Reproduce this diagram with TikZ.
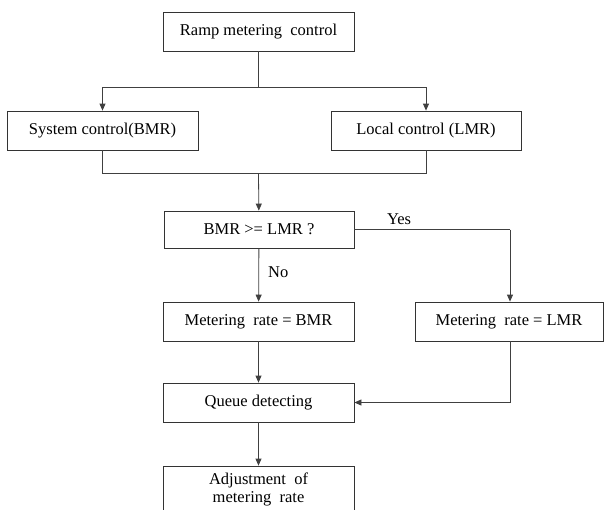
\documentclass[tikz,border=0pt]{standalone}
\usepackage{fontspec}
\setmainfont{Liberation Serif}
\usetikzlibrary{arrows.meta}
\begin{document}
\begin{tikzpicture}[x=1pt,y=-1pt,
  box/.style={draw=black!80, line width=0.8pt, rectangle, inner sep=0pt, minimum height=39pt, font=\rmfamily\fontsize{16.5}{19}\selectfont, align=center},
  ln/.style={draw=black!75, line width=0.8pt},
  arr/.style={ln, -{Triangle[length=7pt,width=6pt]}},
  lbl/.style={font=\rmfamily\fontsize{16.5}{19}\selectfont, inner sep=0pt}]
\useasboundingbox (0,0) rectangle (604,509);
\node[box, minimum width=191pt] (ramp) at (258.5,31.5) {Ramp metering\ \ control};
\node[box, minimum width=191pt] (sys) at (102.5,130.5) {System control(BMR)};
\node[box, minimum width=190pt] (loc) at (426,130.5) {Local control (LMR)};
\node[box, minimum width=190pt, minimum height=37pt] (dec) at (259,229.5) {BMR >= LMR ?};
\node[box, minimum width=191pt] (bmr) at (258.5,321.5) {Metering\ \ rate = BMR};
\node[box, minimum width=188pt] (lmr) at (509,321.5) {Metering\ \ rate = LMR};
\node[box, minimum width=191pt] (que) at (258.5,402.5) {Queue detecting};
\node[box, minimum width=191pt, minimum height=46pt] (adj) at (258.5,489) {Adjustment\ \ of\\[-1pt]metering\ \ rate};
\coordinate (j1) at (258.5,87);
\coordinate (j2) at (258.5,173);
\coordinate (y1) at (510,229.5);
\coordinate (q1) at (510,402.5);
\draw[ln] (ramp) -- (j1);
\draw[arr] (j1) -| (sys);
\draw[arr] (j1) -| (loc);
\draw[ln] (sys) |- (j2);
\draw[ln] (loc) |- (j2);
\draw[arr] (j2) -- (dec);
\draw[arr] (dec) -- node[lbl, right=9pt, pos=0.45] (no) {No} (bmr);
\draw[ln] (dec.east) -- (y1);
\draw[arr] (y1) -- (lmr.north -| y1);
\node[lbl] (yes) at (399,219) {Yes};
\draw[arr] (bmr) -- (que);
\draw[ln] (lmr.south -| q1) -- (q1);
\draw[arr] (q1) -- (que.east);
\draw[arr] (que) -- (adj);
\end{tikzpicture}
\end{document}
